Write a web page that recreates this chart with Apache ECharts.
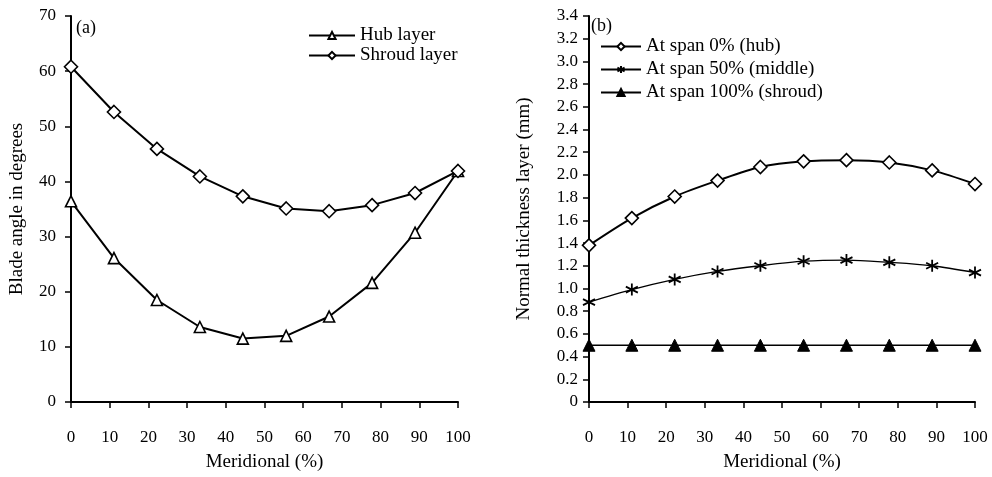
<!DOCTYPE html>
<html>
<head>
<meta charset="utf-8">
<script src="https://cdn.jsdelivr.net/npm/echarts@6/dist/echarts.min.js"></script>
<style>
    html, body { margin: 0; padding: 0; background: #fff; }
    #chart { width: 992px; height: 477px; }
</style>
</head>
<body>
<div id="chart"></div>
<script>
    // meridional positions (%) - 10 stations
    var meridional = [0, 11.1, 22.2, 33.3, 44.4, 55.6, 66.7, 77.8, 88.9, 100];

    // (a) blade angle
    var hubAngle = [36.4, 26.1, 18.5, 13.6, 11.5, 12.0, 15.5, 21.6, 30.7, 41.9];
    var shroudAngle = [60.8, 52.6, 45.9, 40.9, 37.3, 35.1, 34.6, 35.7, 37.9, 41.9];

    // (b) normal thickness
    var thickHub = [1.38, 1.62, 1.81, 1.95, 2.07, 2.12, 2.13, 2.11, 2.04, 1.92];
    var thickMid = [0.88, 0.99, 1.08, 1.15, 1.20, 1.24, 1.25, 1.23, 1.20, 1.14];
    var thickShroud = [0.5, 0.5, 0.5, 0.5, 0.5, 0.5, 0.5, 0.5, 0.5, 0.5];

    var legendA = ['Hub layer', 'Shroud layer'];
    var legendB = ['At span 0% (hub)', 'At span 50% (middle)', 'At span 100% (shroud)'];

    function pairs(ys) {
        return ys.map(function (y, i) { return [meridional[i], y]; });
    }

    var font = 'Liberation Serif';
    var tickTxt = { fontFamily: font, fontSize: 17, color: '#000' };
    var nameTxt = { fontFamily: font, fontSize: 19, color: '#000' };
    var legTxt = { fontFamily: font, fontSize: 19, color: '#000' };
    var asterisk = 'path://M5,0L5,10M0.67,2.5L9.33,7.5M0.67,7.5L9.33,2.5';

    var xAxisBase = function (idx) {
        return {
            gridIndex: idx,
            type: 'value', min: 0, max: 100, interval: 10,
            name: 'Meridional (%)', nameLocation: 'middle', nameGap: 51,
            nameTextStyle: nameTxt,
            axisLine: { lineStyle: { color: '#000', width: 2 } },
            axisTick: { length: 6, lineStyle: { color: '#000', width: 1.5 } },
            axisLabel: Object.assign({ margin: 27 }, tickTxt),
            splitLine: { show: false }
        };
    };

    var chart = echarts.init(document.getElementById('chart'));
    chart.setOption({
        animation: false,
        textStyle: { fontFamily: font },
        grid: [
            { left: 71, right: 534, top: 16, bottom: 75 },
            { left: 589, right: 17, top: 16, bottom: 75 }
        ],
        legend: [
            {
                data: legendA, left: 303, top: 21, orient: 'vertical',
                itemWidth: 46, itemHeight: 9, itemGap: 1, textStyle: legTxt
            },
            {
                data: legendB, left: 595, top: 32, orient: 'vertical',
                itemWidth: 40, itemHeight: 9, itemGap: 4, textStyle: legTxt
            }
        ],
        graphic: [
            { type: 'text', left: 76, top: 19, style: { text: '(a)', font: '18px ' + font, fill: '#000' } },
            { type: 'text', left: 591, top: 17, style: { text: '(b)', font: '18px ' + font, fill: '#000' } }
        ],
        xAxis: [xAxisBase(0), xAxisBase(1)],
        yAxis: [
            {
                gridIndex: 0, type: 'value', min: 0, max: 70, interval: 10,
                name: 'Blade angle in degrees', nameLocation: 'middle', nameGap: 44,
                nameTextStyle: nameTxt,
                axisLine: { show: true, lineStyle: { color: '#000', width: 2 } },
                axisTick: { show: true, length: 6, lineStyle: { color: '#000', width: 1.5 } },
                axisLabel: Object.assign({ margin: 15 }, tickTxt),
                splitLine: { show: false }
            },
            {
                gridIndex: 1, type: 'value', min: 0, max: 3.4, interval: 0.2,
                name: 'Normal thickness layer (mm)', nameLocation: 'middle', nameGap: 55,
                nameTextStyle: nameTxt,
                axisLine: { show: true, lineStyle: { color: '#000', width: 2 } },
                axisTick: { show: true, length: 6, lineStyle: { color: '#000', width: 1.5 } },
                axisLabel: Object.assign({
                    margin: 11,
                    formatter: function (v) { return v === 0 ? '0' : v.toFixed(1); }
                }, tickTxt),
                splitLine: { show: false }
            }
        ],
        series: [
            {
                name: legendA[0], type: 'line', xAxisIndex: 0, yAxisIndex: 0,
                data: pairs(hubAngle),
                symbol: 'triangle', symbolSize: 11,
                lineStyle: { color: '#000', width: 2 },
                itemStyle: { color: '#fff', borderColor: '#000', borderWidth: 1.6 }
            },
            {
                name: legendA[1], type: 'line', xAxisIndex: 0, yAxisIndex: 0,
                data: pairs(shroudAngle),
                symbol: 'diamond', symbolSize: 13,
                lineStyle: { color: '#000', width: 2 },
                itemStyle: { color: '#fff', borderColor: '#000', borderWidth: 1.6 }
            },
            {
                name: legendB[0], type: 'line', xAxisIndex: 1, yAxisIndex: 1,
                data: pairs(thickHub), smooth: 0.3,
                symbol: 'diamond', symbolSize: 13,
                lineStyle: { color: '#000', width: 2 },
                itemStyle: { color: '#fff', borderColor: '#000', borderWidth: 1.6 }
            },
            {
                name: legendB[1], type: 'line', xAxisIndex: 1, yAxisIndex: 1,
                data: pairs(thickMid), smooth: 0.3,
                symbol: asterisk, symbolSize: 12,
                lineStyle: { color: '#000', width: 1.3 },
                itemStyle: { color: '#000', borderColor: '#000', borderWidth: 1.8 }
            },
            {
                name: legendB[2], type: 'line', xAxisIndex: 1, yAxisIndex: 1,
                data: pairs(thickShroud),
                symbol: 'triangle', symbolSize: 12,
                lineStyle: { color: '#000', width: 1.5 },
                itemStyle: { color: '#000', borderColor: '#000', borderWidth: 1 }
            }
        ]
    });
</script>
</body>
</html>
